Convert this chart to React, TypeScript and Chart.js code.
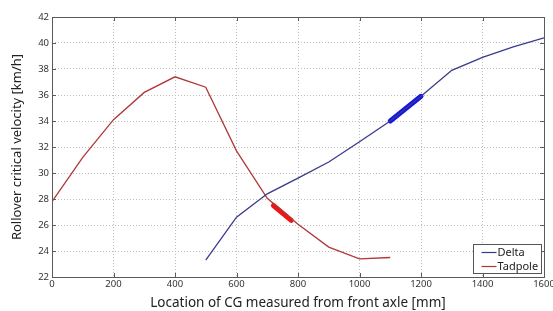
import React, { useEffect, useRef } from "react";
import { Chart, registerables } from "chart.js";

Chart.register(...registerables);

const tadpoleX = [0, 100, 200, 300, 400, 500, 600, 700, 800, 900, 1000, 1100];
const tadpoleY = [27.8, 31.2, 34.1, 36.2, 37.4, 36.6, 31.7, 28.05, 26.05, 24.3, 23.4, 23.5];
const deltaX = [500, 600, 700, 800, 900, 1000, 1100, 1200, 1300, 1400, 1500, 1600];
const deltaY = [23.3, 26.6, 28.4, 29.6, 30.85, 32.4, 34.0, 35.9, 37.9, 38.9, 39.7, 40.4];
const deltaHighlightX = [1100, 1200];
const deltaHighlightY = [34.0, 35.9];
const tadpoleHighlightX = [720, 778];
const tadpoleHighlightY = [27.5, 26.35];
const legendLabels = ["Delta", "Tadpole"];

const pts = (xs: number[], ys: number[]) => xs.map((x, i) => ({ x, y: ys[i] }));

const DELTA_COLOR = "#3a3a8c";
const TADPOLE_COLOR = "#b03838";

const framePlugin = {
  id: "frame",
  afterDraw(chart: any) {
    const { ctx, chartArea } = chart;
    const { left, right, top, bottom } = chartArea;
    const xs = chart.scales.x;
    const ys = chart.scales.y;
    ctx.save();
    ctx.strokeStyle = "#5a5a5a";
    ctx.lineWidth = 1;
    ctx.beginPath();
    xs.ticks.forEach((t: any) => {
      const px = Math.round(xs.getPixelForValue(t.value)) + 0.5;
      ctx.moveTo(px, bottom);
      ctx.lineTo(px, bottom - 4);
      ctx.moveTo(px, top);
      ctx.lineTo(px, top + 4);
    });
    ys.ticks.forEach((t: any) => {
      const py = Math.round(ys.getPixelForValue(t.value)) + 0.5;
      ctx.moveTo(left, py);
      ctx.lineTo(left + 4, py);
      ctx.moveTo(right, py);
      ctx.lineTo(right - 4, py);
    });
    ctx.stroke();
    ctx.strokeRect(Math.round(left) + 0.5, Math.round(top) + 0.5, Math.round(right - left), Math.round(bottom - top));

    // legend box
    const bx = 473.5, by = 244.5, bw = 68, bh = 29;
    ctx.fillStyle = "#ffffff";
    ctx.fillRect(bx, by, bw, bh);
    ctx.strokeStyle = "#555";
    ctx.strokeRect(bx, by, bw, bh);
    const colors = [DELTA_COLOR, TADPOLE_COLOR];
    ctx.font = "11px 'Noto Sans', sans-serif";
    ctx.textBaseline = "middle";
    legendLabels.forEach((lab, i) => {
      const yy = by + 8 + i * 14;
      ctx.strokeStyle = colors[i];
      ctx.lineWidth = 1.2;
      ctx.beginPath();
      ctx.moveTo(bx + 8, yy);
      ctx.lineTo(bx + 23, yy);
      ctx.stroke();
      ctx.fillStyle = "#222";
      ctx.fillText(lab, bx + 24, yy);
    });
    ctx.restore();
  },
};

export default function App() {
  const ref = useRef<HTMLCanvasElement>(null);
  useEffect(() => {
    document.body.style.margin = "0";
    const chart = new Chart(ref.current!, {
      type: "line",
      data: {
        datasets: [
          {
            label: legendLabels[0],
            data: pts(deltaX, deltaY),
            borderColor: DELTA_COLOR,
            borderWidth: 1.3,
            pointRadius: 0,
            tension: 0,
          },
          {
            label: legendLabels[1],
            data: pts(tadpoleX, tadpoleY),
            borderColor: TADPOLE_COLOR,
            borderWidth: 1.3,
            pointRadius: 0,
            tension: 0,
          },
          {
            label: "Delta range",
            data: pts(deltaHighlightX, deltaHighlightY),
            borderColor: "#1414e6",
            borderWidth: 5,
            pointRadius: 0,
            borderCapStyle: "round",
          },
          {
            label: "Tadpole range",
            data: pts(tadpoleHighlightX, tadpoleHighlightY),
            borderColor: "#f01414",
            borderWidth: 5,
            pointRadius: 0,
            borderCapStyle: "round",
          },
        ],
      },
      options: {
        animation: false,
        responsive: false,
        maintainAspectRatio: false,
        parsing: false as any,
        layout: { padding: { left: 0, right: 9, top: 17, bottom: 0 }, autoPadding: false },
        plugins: { legend: { display: false }, tooltip: { enabled: false } },
        scales: {
          x: {
            type: "linear",
            min: 0,
            max: 1600,
            ticks: {
              stepSize: 200,
              padding: 2,
              color: "#333",
              font: { size: 9.5, family: "'Noto Sans', sans-serif" },
              maxRotation: 0,
              callback: (v: any) => String(v),
            },
            grid: { color: "#bdbdbd", drawTicks: false, lineWidth: 1 },
            border: { display: false, dash: [1, 2] },
            title: {
              display: true,
              text: "Location of CG measured from front axle [mm]",
              color: "#222",
              font: { size: 13.5, family: "'Noto Sans', sans-serif" },
              padding: { top: 1, bottom: 0 },
            },
            afterFit: (s: any) => {
              s.height = 34;
              s.paddingLeft = 0;
              s.paddingRight = 0;
            },
          },
          y: {
            type: "linear",
            min: 22,
            max: 42,
            ticks: {
              stepSize: 2,
              padding: 3,
              color: "#333",
              font: { size: 9.5, family: "'Noto Sans', sans-serif" },
              callback: (v: any) => String(v),
            },
            grid: { color: "#bdbdbd", drawTicks: false, lineWidth: 1 },
            border: { display: false, dash: [1, 2] },
            title: {
              display: true,
              text: "Rollover critical velocity [km/h]",
              color: "#222",
              font: { size: 13, family: "'Noto Sans', sans-serif" },
              padding: { top: 9, bottom: 4 },
            },
            afterFit: (s: any) => {
              s.width = 52;
              s.paddingTop = 0;
              s.paddingBottom = 0;
            },
          },
        },
      },
      plugins: [framePlugin],
    });
    return () => chart.destroy();
  }, []);
  return (
    <div style={{ width: 553, height: 311 }}>
      <canvas ref={ref} width={553} height={311} style={{ display: "block" }} />
    </div>
  );
}
